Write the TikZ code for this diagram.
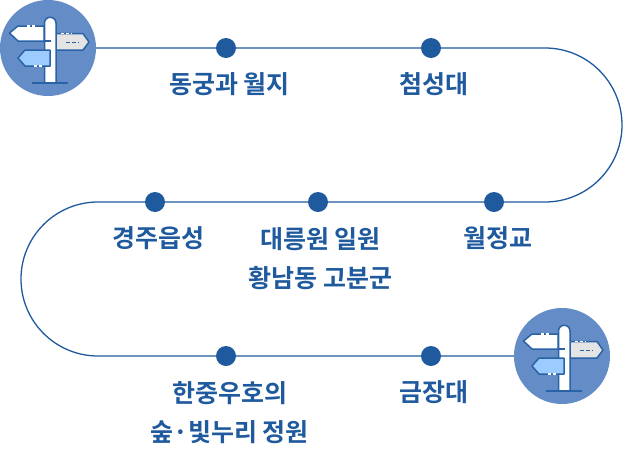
\documentclass[tikz,border=0pt]{standalone}
\usepackage{fontspec}
\newfontfamily\krfont{Noto Sans CJK KR Bold}
\definecolor{lineblue}{HTML}{1F5A9E}
\definecolor{circblue}{HTML}{648CC6}
\definecolor{signblue}{HTML}{9CCBFF}
\definecolor{signgrey}{HTML}{E4E4E4}
\definecolor{darkline}{HTML}{2A62A6}
\tikzset{
  dotnode/.style={circle,fill=lineblue,draw=none,minimum size=20pt,inner sep=0pt},
  lab/.style={text=lineblue,font=\krfont\fontsize{25}{39}\selectfont,align=center,inner sep=0pt},
  circnode/.style={circle,fill=circblue,draw=none,minimum size=96pt,inner sep=0pt},
  road/.style={draw=lineblue,line width=1.3pt},
  sign/.style={draw=darkline,line width=1.5pt,line join=round},
  pics/signpost/.style={code={
    \path[sign,fill=signgrey] (8,-14.5) -- (35,-14.5) -- (41,-6) -- (35,2) -- (8,2) -- cycle;
    \draw[white,line width=1.2pt,dash pattern=on 3pt off 2pt] (13,-14.5) -- (24,-14.5);
    \draw[darkline,line width=1pt,dash pattern=on 4pt off 2pt] (18,-6) -- (31,-6);
    \path[sign,fill=white] (-4,-22) -- (-30,-22) -- (-38.5,-15) -- (-30,-7) -- (-4,-7) -- cycle;
    \draw[white,line width=1.2pt,dash pattern=on 3pt off 2pt] (-21,-22) -- (-13,-22);
    \path[sign,fill=white] (-3.5,35) -- (-3.5,-25) arc[start angle=180,end angle=360,radius=5.75] -- (8,35);
    \draw[darkline,line width=1.5pt] (-3.5,-7) -- (3,-7);
    \path[sign,fill=signblue] (2,2) -- (-23,2) -- (-30,10) -- (-23,18) -- (2,18) -- cycle;
    \draw[white,line width=1.2pt,dash pattern=on 3pt off 2pt] (-14,18) -- (-6,18);
    \draw[darkline,line width=1.5pt] (-16,35) -- (20,35);
  }}
}
\begin{document}
\begin{tikzpicture}[x=1pt,y=-1pt]
\useasboundingbox (0,0) rectangle (630,472);
\node[circnode] (start) at (48,48) {};
\node[circnode] (finish) at (562,356) {};
\node[dotnode] (d1) at (226,48) {};
\node[dotnode] (d2) at (431,48) {};
\node[dotnode] (d3) at (494,202) {};
\node[dotnode] (d4) at (318,202) {};
\node[dotnode] (d5) at (155,202) {};
\node[dotnode] (d6) at (226,356) {};
\node[dotnode] (d7) at (431,356) {};
\draw[road] (start) -- (d1) -- (d2) -- (545,48)
  arc[start angle=-90,delta angle=180,radius=77] -- (d3) -- (d4) -- (d5) -- (98,202)
  arc[start angle=-90,delta angle=-180,radius=77] -- (d6) -- (d7) -- (finish);
\pic at (48,48) {signpost};
\pic at (562,356) {signpost};
\node[lab] (t1) at (229.5,84.5) {동궁과 월지};
\node[lab] (t2) at (434,84.5) {첨성대};
\node[lab] (t3) at (497.5,238.5) {월정교};
\node[lab] (t4) at (320.5,258.5) {대릉원 일원\\황남동 고분군};
\node[lab] (t5) at (158,238.5) {경주읍성};
\node[lab] (t6) at (229.5,412.5) {한중우호의\\숲·빛누리 정원};
\node[lab] (t7) at (434,392.5) {금장대};
\end{tikzpicture}
\end{document}
